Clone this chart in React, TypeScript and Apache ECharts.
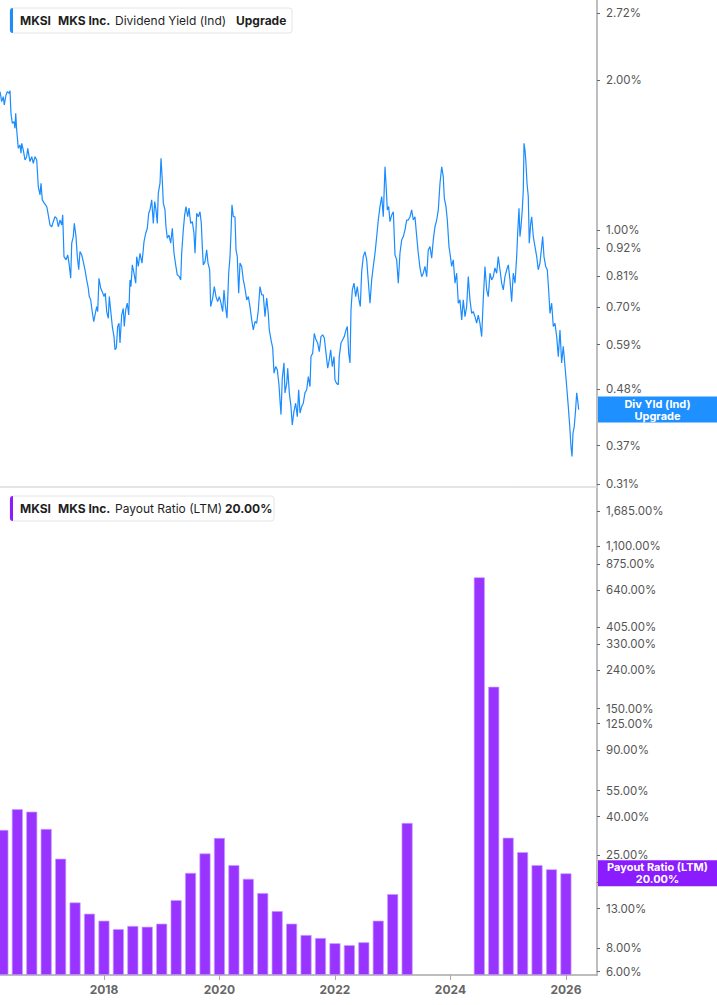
import React, { useEffect, useRef } from "react";
import * as echarts from "echarts";

// ---------- DATA ----------
const yieldYears = [
  2016.200,2016.229,2016.257,2016.274,2016.304,2016.326,2016.356,2016.373,2016.390,2016.413,
  2016.442,2016.460,2016.472,2016.489,2016.517,2016.546,2016.564,2016.576,2016.603,2016.633,
  2016.662,2016.680,2016.719,2016.749,2016.777,2016.806,2016.836,2016.863,2016.893,2016.910,
  2016.932,2016.967,2017.009,2017.026,2017.066,2017.095,2017.123,2017.152,2017.182,2017.210,
  2017.239,2017.268,2017.286,2017.308,2017.343,2017.372,2017.395,2017.424,2017.442,2017.469,
  2017.487,2017.516,2017.539,2017.563,2017.585,2017.615,2017.642,2017.672,2017.701,2017.729,
  2017.746,2017.771,2017.793,2017.823,2017.845,2017.874,2017.892,2017.914,2017.944,2017.971,
  2018.001,2018.023,2018.048,2018.075,2018.093,2018.122,2018.145,2018.174,2018.191,2018.214,
  2018.238,2018.261,2018.278,2018.307,2018.335,2018.352,2018.377,2018.404,2018.429,2018.451,
  2018.468,2018.491,2018.520,2018.550,2018.567,2018.595,2018.624,2018.659,2018.694,2018.723,
  2018.751,2018.775,
  2018.797,2018.827,2018.855,2018.879,2018.901,2018.924,2018.941,2018.971,2018.988,2019.010,
  2019.028,2019.057,2019.074,2019.097,2019.126,2019.156,2019.184,2019.213,2019.242,2019.270,
  2019.305,2019.329,2019.346,2019.374,2019.398,2019.421,2019.450,2019.473,2019.502,2019.530,
  2019.559,2019.577,2019.606,2019.634,2019.663,2019.686,2019.703,2019.720,2019.750,2019.779,
  2019.802,2019.831,2019.848,2019.883,2019.911,2019.940,2019.969,2019.997,2020.027,2020.056,
  2020.079,2020.101,2020.131,2020.160,2020.183,2020.200,2020.217,2020.240,2020.269,2020.287,
  2020.309,2020.333,2020.356,2020.385,2020.413,2020.442,2020.472,2020.500,2020.529,2020.558,
  2020.586,2020.616,2020.645,2020.673,2020.702,2020.732,2020.759,2020.789,2020.818,2020.846,
  2020.863,2020.893,2020.922,2020.945,2020.974,2021.002,2021.031,2021.048,2021.066,2021.088,
  2021.118,2021.135,2021.165,2021.182,2021.210,2021.239,2021.261,2021.291,2021.320,2021.348,
  2021.372,
  2021.395,2021.424,2021.452,2021.481,2021.511,2021.539,2021.568,2021.585,2021.615,2021.642,
  2021.672,2021.701,2021.729,2021.758,2021.788,2021.816,2021.845,2021.875,2021.902,2021.926,
  2021.954,2021.984,2022.001,2022.030,2022.058,2022.075,2022.105,2022.134,2022.162,2022.191,
  2022.214,2022.238,2022.261,2022.278,2022.301,2022.330,2022.359,2022.387,2022.416,2022.439,
  2022.463,2022.491,2022.520,2022.550,2022.578,2022.607,2022.636,2022.664,2022.694,2022.723,
  2022.751,2022.780,2022.810,2022.837,2022.867,2022.884,2022.907,2022.931,2022.953,2022.983,
  2023.011,2023.040,2023.069,2023.097,2023.126,2023.156,2023.184,2023.213,2023.242,2023.270,
  2023.300,2023.329,2023.357,2023.386,2023.416,2023.443,2023.473,2023.502,2023.530,2023.559,
  2023.589,2023.616,2023.646,2023.675,2023.703,2023.732,2023.762,2023.790,2023.819,2023.849,
  2023.876,2023.894,2023.923,2023.946,2023.975,2023.992,
  2024.021,2024.049,2024.079,2024.108,2024.136,2024.165,2024.195,2024.222,2024.252,
  2024.281,2024.309,2024.338,2024.368,2024.395,2024.425,2024.454,2024.482,2024.511,2024.541,
  2024.568,2024.598,2024.628,2024.655,2024.685,2024.714,2024.742,2024.771,2024.801,2024.828,
  2024.858,2024.887,2024.915,2024.944,2024.974,2025.002,2025.031,2025.060,2025.088,2025.118,
  2025.147,2025.164,2025.187,2025.204,2025.222,2025.244,2025.262,2025.274,2025.291,2025.308,
  2025.326,2025.348,2025.365,2025.390,2025.407,2025.435,2025.464,2025.494,2025.521,2025.550,
  2025.580,2025.597,2025.620,2025.649,2025.677,2025.701,2025.724,2025.753,2025.781,2025.810,
  2025.840,2025.868,2025.897,2025.926,2025.954,2025.984,2026.013,2026.041,2026.070,2026.087,
  2026.105,2026.122,2026.144,2026.168,2026.186,2026.203,2026.221,
];

const yieldValues = [
  1.895,1.810,1.852,1.782,1.866,1.895,1.881,1.904,1.715,1.638,
  1.650,1.600,1.715,1.588,1.459,1.482,1.426,1.493,1.448,1.383,
  1.404,1.459,1.372,1.404,1.362,1.404,1.383,1.222,1.177,1.242,
  1.150,1.133,1.115,1.089,1.024,1.016,1.040,1.064,1.056,1.016,
  1.048,1.024,1.073,0.885,0.872,0.892,0.859,0.801,0.942,0.971,
  1.032,0.971,0.885,0.833,0.906,0.892,0.865,0.833,0.795,0.765,
  0.736,0.725,0.692,0.656,0.676,0.703,0.687,0.801,0.765,0.753,
  0.736,0.748,0.687,0.666,0.736,0.681,0.641,0.612,0.576,0.581,
  0.641,0.651,0.594,0.676,0.697,0.641,0.692,0.714,0.676,0.795,
  0.771,0.852,0.820,0.783,0.885,0.846,0.899,0.859,0.949,0.986,
  1.009,1.081,
  1.098,1.150,1.032,1.141,1.098,1.032,1.186,1.242,1.394,1.261,
  1.133,1.098,1.016,0.964,0.978,0.942,1.009,0.899,0.852,0.814,
  0.807,0.795,0.899,1.001,1.073,1.115,1.064,1.107,1.032,1.040,
  0.986,0.899,1.081,1.064,1.089,1.032,0.927,0.852,0.865,0.913,
  0.859,0.833,0.703,0.731,0.771,0.736,0.719,0.736,0.714,0.687,
  0.759,0.708,0.666,0.820,0.885,0.986,1.124,1.064,1.064,0.913,
  0.885,0.748,0.859,0.846,0.795,0.765,0.725,0.736,0.703,0.661,
  0.631,0.656,0.651,0.692,0.771,0.742,0.742,0.671,0.731,0.681,
  0.631,0.603,0.581,0.517,0.533,0.525,0.490,0.457,0.427,0.505,
  0.542,0.472,0.493,0.529,0.472,0.443,0.407,0.434,0.450,0.423,
  0.479,
  0.430,0.443,0.450,0.472,0.479,0.509,0.486,0.558,0.567,0.621,
  0.603,0.594,0.571,0.612,0.617,0.608,0.567,0.529,0.550,0.576,
  0.533,0.558,0.501,0.493,0.490,0.558,0.594,0.603,0.612,0.631,
  0.641,0.567,0.542,0.692,0.759,0.783,0.736,0.771,0.725,0.703,
  0.826,0.885,0.906,0.872,0.789,0.714,0.795,0.846,0.899,0.971,
  1.048,1.115,1.168,1.064,1.340,1.242,1.098,1.115,1.040,1.073,
  1.089,0.892,0.872,0.783,0.899,0.956,0.971,1.001,1.048,1.048,
  1.064,1.098,1.048,1.064,0.971,0.899,0.840,0.807,0.820,0.846,
  0.807,0.913,0.927,0.879,0.956,1.016,1.048,1.098,1.242,1.340,
  1.280,1.159,1.115,1.048,0.927,0.899,
  0.846,0.872,0.783,0.820,0.714,0.725,0.661,0.725,0.671,
  0.703,0.807,0.725,0.681,0.687,0.671,0.651,0.676,0.651,0.612,
  0.725,0.846,0.759,0.736,0.820,0.795,0.807,0.840,0.820,0.885,
  0.833,0.783,0.759,0.807,0.833,0.852,0.795,0.719,0.820,0.783,
  0.885,0.986,1.107,0.971,1.016,1.098,1.204,1.493,1.448,1.362,
  1.242,1.168,0.942,1.032,1.064,0.971,0.927,0.885,0.833,0.859,
  0.927,0.971,0.885,0.846,0.833,0.759,0.681,0.714,0.641,0.651,
  0.612,0.558,0.631,0.542,0.585,0.533,0.486,0.443,0.398,0.369,
  0.352,0.392,0.404,0.437,0.472,0.457,0.437,
];

const yieldTicks = [2.72, 2.0, 1.0, 0.92, 0.81, 0.7, 0.59, 0.48, 0.37, 0.31];
const yieldRange = [0.3057, 2.893];

const payoutQuarters = [
  "2016Q1","2016Q2","2016Q3","2016Q4","2017Q1","2017Q2","2017Q3","2017Q4",
  "2018Q1","2018Q2","2018Q3","2018Q4","2019Q1","2019Q2","2019Q3","2019Q4",
  "2020Q1","2020Q2","2020Q3","2020Q4","2021Q1","2021Q2","2021Q3","2021Q4",
  "2022Q1","2022Q2","2022Q3","2022Q4","2023Q1","2023Q2","2023Q3","2023Q4",
  "2024Q1","2024Q2","2024Q3","2024Q4","2025Q1","2025Q2","2025Q3","2025Q4",
];
const payoutValues: (number | null)[] = [
  34.0, 43.8, 42.5, 34.4, 23.9, 14.0, 12.2, 11.2,
  10.1, 10.5, 10.4, 10.8, 14.4, 20.1, 25.5, 30.8,
  22.1, 18.7, 15.7, 12.6, 10.8, 9.4, 9.06, 8.5,
  8.3, 8.6, 11.2, 15.5, 37.0, null, null, null,
  null, 748, 196, 30.9, 25.9, 22.1, 21.0, 20.0,
];
const payoutTicks = [1685, 1100, 875, 640, 405, 330, 240, 150, 125, 90, 55, 40, 25, 18, 13, 8, 6];
const payoutRange = [5.762, 2258];

const yearTicks = [2018, 2020, 2022, 2024, 2026];
const xRange = [2016.2, 2026.538];

// ---------- HELPERS ----------
const FONT = "Inter, 'Noto Sans', sans-serif";
const BLUE = "#1a8cff";
const PURPLE = "#9933ff";
const yT = (v: number) => Math.log(v);
const yB = (v: number) => Math.log(v / payoutRange[0]);
const quarterToYear = (q: string) => {
  const y = parseInt(q.slice(0, 4), 10);
  const n = parseInt(q.slice(5), 10);
  return y + n * 0.25;
};

export default function App() {
  const ref = useRef<HTMLDivElement>(null);

  useEffect(() => {
    document.body.style.margin = "0";
    const el = ref.current!;
    const chart = echarts.init(el, null, { renderer: "svg" });

    const n = Math.min(yieldYears.length, yieldValues.length);
    const lineData: number[][] = [];
    for (let i = 0; i < n; i++) lineData.push([yieldYears[i], yT(yieldValues[i])]);

    const barData: number[][] = [];
    payoutQuarters.forEach((q, i) => {
      const v = payoutValues[i];
      if (v != null) barData.push([quarterToYear(q), yB(v)]);
    });

    const axisLabelStyle = { color: "#555", fontSize: 11.5, fontFamily: FONT, margin: 9 };

    chart.setOption({
      animation: false,
      textStyle: { fontFamily: FONT },
      grid: [
        { left: 0, top: 0, width: 597, height: 487 },
        { left: 0, top: 487, width: 597, height: 488 },
      ],
      xAxis: [
        {
          type: "value", gridIndex: 0, min: xRange[0], max: xRange[1],
          axisLine: { show: true, onZero: false, lineStyle: { color: "#dcdcdc", width: 1.5 } },
          axisTick: { show: false }, axisLabel: { show: false }, splitLine: { show: false },
        },
        {
          type: "value", gridIndex: 1, min: xRange[0], max: xRange[1],
          axisLine: { show: true, onZero: false, lineStyle: { color: "#a8a8a8", width: 1.5 } },
          axisTick: { show: true, length: 5, lineStyle: { color: "#a8a8a8" }, customValues: yearTicks },
          axisLabel: {
            show: true, customValues: yearTicks, color: "#666", fontWeight: "bold",
            fontSize: 12, fontFamily: FONT, margin: 8, formatter: (v: number) => String(Math.round(v)),
          },
          splitLine: { show: false },
        },
      ],
      yAxis: [
        {
          type: "value", gridIndex: 0, position: "right",
          min: yT(yieldRange[0]), max: yT(yieldRange[1]),
          axisLine: { show: true, lineStyle: { color: "#a8a8a8", width: 1.5 } },
          axisTick: { show: true, length: 3, lineStyle: { color: "#666" }, customValues: yieldTicks.map(yT) },
          axisLabel: {
            ...axisLabelStyle, customValues: yieldTicks.map(yT),
            formatter: (v: number) => Math.exp(v).toFixed(2) + "%",
          },
          splitLine: { show: false },
        },
        {
          type: "value", gridIndex: 1, position: "right",
          min: 0, max: yB(payoutRange[1]),
          axisLine: { show: true, lineStyle: { color: "#a8a8a8", width: 1.5 } },
          axisTick: { show: true, length: 3, lineStyle: { color: "#666" }, customValues: payoutTicks.map(yB) },
          axisLabel: {
            ...axisLabelStyle, customValues: payoutTicks.map(yB),
            formatter: (v: number) =>
              (payoutRange[0] * Math.exp(v)).toLocaleString("en-US", {
                minimumFractionDigits: 2, maximumFractionDigits: 2,
              }) + "%",
          },
          splitLine: { show: false },
        },
      ],
      series: [
        {
          type: "line", xAxisIndex: 0, yAxisIndex: 0, data: lineData,
          showSymbol: false, symbol: "none", lineStyle: { color: BLUE, width: 1.2 }, z: 3,
        },
        {
          type: "bar", xAxisIndex: 1, yAxisIndex: 1, data: barData, barWidth: 11,
          itemStyle: { color: PURPLE, borderColor: "#c79dff", borderWidth: 0.7 },
        },
      ],
    });

    const lastYield = yieldValues[n - 1];
    const lastPayout = payoutValues[payoutValues.length - 1] as number;
    const py1 = (chart.convertToPixel({ gridIndex: 0 }, [xRange[1], yT(lastYield)]) as number[])[1];
    const py2 = (chart.convertToPixel({ gridIndex: 1 }, [xRange[1], yB(lastPayout)]) as number[])[1];

    const legend = (y: number, w: number, accent: string, parts: [string, number, boolean][]) => ({
      type: "group",
      children: [
        { type: "rect", shape: { x: 10, y, width: w, height: 25, r: 3 }, style: { fill: "#fff", stroke: "#e4e4e4", lineWidth: 1 }, z: 10 },
        { type: "rect", shape: { x: 10, y, width: 3, height: 25, r: [3, 0, 0, 3] }, style: { fill: accent }, z: 11 },
        ...parts.map(([t, x, bold]) => ({
          type: "text", x, y: y + 12.5, z: 12,
          style: { text: t, fill: "#1f1f1f", fontSize: 12, fontWeight: bold ? "bold" : "normal", fontFamily: FONT, verticalAlign: "middle", align: "left" },
        })),
      ],
    });

    const axisBox = (y: number, fill: string, text: string) => ({
      type: "group",
      children: [
        { type: "rect", shape: { x: 598, y: y - 13, width: 119, height: 26 }, style: { fill }, z: 20 },
        {
          type: "text", x: 657.5, y, z: 21,
          style: { text, fill: "#fff", fontSize: 11, fontWeight: "bold", fontFamily: FONT, align: "center", verticalAlign: "middle", lineHeight: 12 },
        },
      ],
    });

    chart.setOption({
      graphic: [
        legend(8, 282, BLUE, [["MKSI", 20, true], ["MKS Inc.", 58, true], ["Dividend Yield (Ind)", 115, false], ["Upgrade", 236, true]]),
        legend(496, 264, "#8a1cff", [["MKSI", 20, true], ["MKS Inc.", 58, true], ["Payout Ratio (LTM)", 115, false], ["20.00%", 225, true]]),
        axisBox(py1, "#1e90ff", "Div Yld (Ind)\nUpgrade"),
        axisBox(py2, "#8a1cff", "Payout Ratio (LTM)\n20.00%"),
      ],
    });

    return () => chart.dispose();
  }, []);

  return <div ref={ref} style={{ width: 717, height: 1005 }} />;
}
